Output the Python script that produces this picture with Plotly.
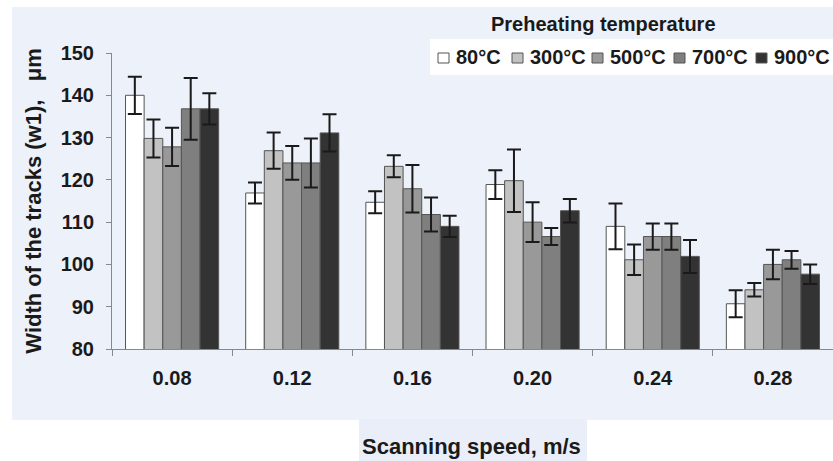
import plotly.graph_objects as go

speeds = ["0.08", "0.12", "0.16", "0.20", "0.24", "0.28"]
temps = ["80°C", "300°C", "500°C", "700°C", "900°C"]

w_80 = [140.0, 116.9, 114.7, 118.9, 109.0, 90.7]
w_300 = [129.8, 126.9, 123.2, 119.8, 101.1, 94.0]
w_500 = [127.8, 124.0, 117.9, 110.0, 106.6, 100.0]
w_700 = [136.8, 124.0, 111.8, 106.6, 106.6, 101.1]
w_900 = [136.8, 131.1, 109.0, 112.7, 101.9, 97.7]

e_80 = [4.4, 2.5, 2.6, 3.4, 5.4, 3.2]
e_300 = [4.5, 4.3, 2.6, 7.4, 3.6, 1.6]
e_500 = [4.5, 4.0, 5.6, 4.7, 3.1, 3.5]
e_700 = [7.3, 5.8, 4.0, 2.0, 3.1, 2.1]
e_900 = [3.7, 4.4, 2.5, 2.8, 3.9, 2.3]

values = [w_80, w_300, w_500, w_700, w_900]
errors = [e_80, e_300, e_500, e_700, e_900]
colors = ["#ffffff", "#c2c2c2", "#999999", "#7f7f7f", "#333333"]

W, H = 833, 461
L, R, T, B = 112, 0, 53, 112
PW, PH = W - L - R, H - T - B

def px(x):
    return (x - L) / PW

def py(y):
    return (H - B - y) / PH

BG = "#edf1f9"
TXT = "#1a1a1a"
FONT = "Liberation Sans, Arial, sans-serif"

fig = go.Figure()
for name, vals, errs, col in zip(temps, values, errors, colors):
    fig.add_trace(go.Bar(
        x=speeds, y=vals, name=name,
        marker=dict(color=col, line=dict(color="#555555", width=1)),
        error_y=dict(type="data", array=errs, visible=True,
                     color="#1a1a1a", thickness=2, width=7),
        showlegend=False,
    ))

shapes = [
    # light background region
    dict(type="rect", xref="paper", yref="paper", layer="below",
         x0=px(12), x1=px(833), y0=py(420), y1=py(7),
         fillcolor=BG, line=dict(width=0)),
    # patch behind x-axis title
    dict(type="rect", xref="paper", yref="paper", layer="below",
         x0=px(359), x1=px(587), y0=py(461), y1=py(419),
         fillcolor="#e9eef8", line=dict(width=0)),
    # legend box
    dict(type="rect", xref="paper", yref="paper", layer="above",
         x0=px(430), x1=px(833), y0=py(75), y1=py(39),
         fillcolor="#ffffff", line=dict(width=0)),
]

annotations = [
    dict(text="Preheating temperature", xref="paper", yref="paper",
         x=px(603), y=py(24), xanchor="center", yanchor="middle",
         showarrow=False, font=dict(family=FONT, size=20, color=TXT, weight="bold")),
]

sq_x = [438, 512, 592, 674, 756]
for name, col, sx in zip(temps, colors, sq_x):
    shapes.append(dict(type="rect", xref="paper", yref="paper", layer="above",
                       x0=px(sx), x1=px(sx + 11), y0=py(63), y1=py(53),
                       fillcolor=col, line=dict(color="#555555", width=1)))
    annotations.append(dict(text=name, xref="paper", yref="paper",
                            x=px(sx + 16), y=py(57), xanchor="left", yanchor="middle",
                            showarrow=False,
                            font=dict(family=FONT, size=20, color=TXT, weight="bold")))

annotations.append(dict(text="Scanning speed, m/s", xref="paper", yref="paper",
                        x=px(471), y=py(446), xanchor="center", yanchor="middle",
                        showarrow=False,
                        font=dict(family=FONT, size=22, color=TXT, weight="bold")))

fig.update_layout(
    width=W, height=H,
    margin=dict(l=L, r=R, t=T, b=B, pad=0),
    paper_bgcolor="#ffffff",
    plot_bgcolor=BG,
    barmode="group",
    bargap=0.225,
    bargroupgap=0,
    shapes=shapes,
    annotations=annotations,
    font=dict(family=FONT, color=TXT),
)

fig.update_xaxes(
    type="category",
    showline=True, linecolor="#888888", linewidth=1,
    ticks="outside", ticklen=6, tickcolor="#888888", tickson="boundaries",
    showgrid=False, zeroline=False,
    tickfont=dict(family=FONT, size=20, color=TXT, weight="bold"),
    ticklabelstandoff=11,
)
fig.update_yaxes(
    range=[80, 150], dtick=10, tick0=80,
    showline=True, linecolor="#888888", linewidth=1,
    ticks="outside", ticklen=5, tickcolor="#888888",
    showgrid=False, zeroline=False,
    tickfont=dict(family=FONT, size=20, color=TXT, weight="bold"),
    ticklabelstandoff=8,
    title=dict(text="Width of the tracks (w1),\u00a0\u00a0 μm", standoff=12,
               font=dict(family=FONT, size=22, color=TXT, weight="bold")),
)

fig.write_html("out.html")
